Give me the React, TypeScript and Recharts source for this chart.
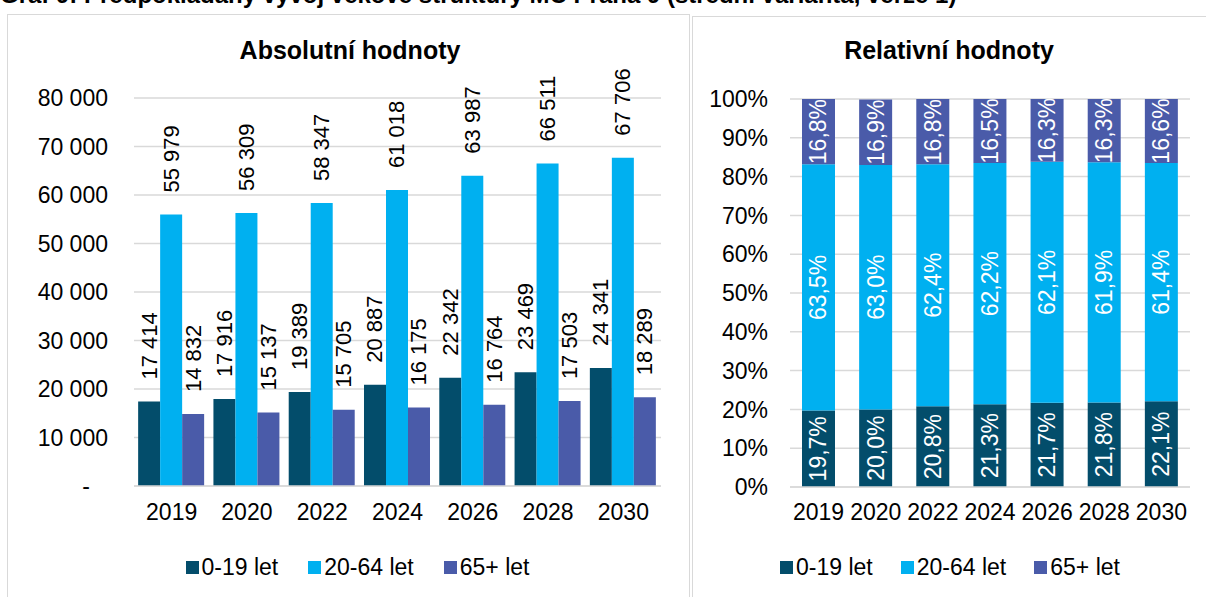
import { BarChart, Bar, XAxis, YAxis, CartesianGrid, Legend, LabelList } from "recharts";

const years = ["2019", "2020", "2022", "2024", "2026", "2028", "2030"];

const youngAbs = [17414, 17916, 19389, 20887, 22342, 23469, 24341];
const workingAbs = [55979, 56309, 58347, 61018, 63987, 66511, 67706];
const seniorAbs = [14832, 15137, 15705, 16175, 16764, 17503, 18289];

const youngPct = [19.7, 20.0, 20.8, 21.3, 21.7, 21.8, 22.1];
const workingPct = [63.5, 63.0, 62.4, 62.2, 62.1, 61.9, 61.4];
const seniorPct = [16.8, 16.9, 16.8, 16.5, 16.3, 16.3, 16.6];

const absTicks = [0, 10000, 20000, 30000, 40000, 50000, 60000, 70000, 80000];
const pctTicks = [0, 10, 20, 30, 40, 50, 60, 70, 80, 90, 100];

const seriesNames = ["0-19 let", "20-64 let", "65+ let"];
const colors = ["#034d6b", "#00b0f0", "#4a5ba9"];

const absData = years.map((year, i) => ({
  year,
  young: youngAbs[i],
  working: workingAbs[i],
  senior: seniorAbs[i],
}));

const pctData = years.map((year, i) => ({
  year,
  young: youngPct[i],
  working: workingPct[i],
  senior: seniorPct[i],
}));

const FONT = "'Liberation Sans', Arial, sans-serif";
const FS = 23;
const LFS = 22;
const GRID = "#d9d9d9";

const fmtNum = (v: number) => String(v).replace(/\B(?=(\d{3})+(?!\d))/g, " ");
const fmtPct = (v: number) => v.toFixed(1).replace(".", ",") + "%";

const AbsTick = (props: any) => {
  const { x, y, payload } = props;
  if (payload.value === 0) {
    return (
      <text x={x - 18} y={y} textAnchor="end" dominantBaseline="central" fontSize={FS} fontFamily={FONT} fill="#000">
        -
      </text>
    );
  }
  return (
    <text x={x} y={y} textAnchor="end" dominantBaseline="central" fontSize={FS} fontFamily={FONT} fill="#000">
      {fmtNum(payload.value)}
    </text>
  );
};

const OutsideLabel = (props: any) => {
  const { x, y, width, value } = props;
  const cx = x + width / 2;
  const cy = y - 22;
  return (
    <text
      x={cx}
      y={cy}
      transform={`rotate(-90 ${cx} ${cy})`}
      textAnchor="start"
      dominantBaseline="central"
      fontSize={LFS}
      fontFamily={FONT}
      fill="#000"
    >
      {fmtNum(value)}
    </text>
  );
};

const InsideLabel = (props: any) => {
  const { x, y, width, height, value } = props;
  const cx = x + width / 2;
  const cy = y + height / 2;
  return (
    <text
      x={cx}
      y={cy}
      transform={`rotate(-90 ${cx} ${cy})`}
      textAnchor="middle"
      dominantBaseline="central"
      fontSize={FS}
      fontFamily={FONT}
      fill="#fff"
    >
      {fmtPct(value)}
    </text>
  );
};

const LegendBox = ({ gap }: { gap: number }) => (
  <div style={{ display: "flex", justifyContent: "center", gap, fontFamily: FONT, fontSize: FS, color: "#000", lineHeight: "24px" }}>
    {seriesNames.map((name, i) => (
      <div key={name} style={{ display: "flex", alignItems: "center" }}>
        <span style={{ display: "inline-block", width: 13, height: 13, background: colors[i], marginRight: 3 }} />
        <span>{name}</span>
      </div>
    ))}
  </div>
);

const titleStyle = (left: number, width: number): React.CSSProperties => ({
  position: "absolute",
  left,
  width,
  top: 35,
  textAlign: "center",
  fontFamily: FONT,
  fontWeight: "bold",
  fontSize: 25,
  lineHeight: "30px",
  color: "#000",
});

export default function App() {
  return (
    <div style={{ position: "absolute", left: 0, top: 0, width: 1206, height: 597, overflow: "hidden", background: "#fff" }}>
      <div
        style={{
          position: "absolute",
          left: 0,
          top: -17,
          whiteSpace: "nowrap",
          fontFamily: FONT,
          fontWeight: "bold",
          fontSize: 24,
          lineHeight: "24px",
        }}
      >
        Graf 9: Předpokládaný vývoj věkové struktury MČ Praha 9 (střední varianta, verze 1)
      </div>
      <div style={{ position: "absolute", left: 7, top: 14, width: 683, height: 620, border: `1px solid ${GRID}`, boxSizing: "border-box" }} />
      <div style={{ position: "absolute", left: 692, top: 16, width: 530, height: 620, border: `1px solid ${GRID}`, boxSizing: "border-box" }} />

      <div style={titleStyle(10, 680)}>Absolutní hodnoty</div>
      <div style={titleStyle(692, 514)}>Relativní hodnoty</div>

      <div style={{ position: "absolute", left: 10, top: 0 }}>
        <BarChart
          width={680}
          height={597}
          data={absData}
          margin={{ top: 98, right: 29, left: 44, bottom: 18 }}
          barCategoryGap="5.5%"
          barGap={0}
        >
          <CartesianGrid vertical={false} stroke={GRID} strokeWidth={1.5} />
          <XAxis
            dataKey="year"
            tickLine={false}
            tickSize={0}
            tickMargin={18}
            height={69}
            axisLine={{ stroke: GRID, strokeWidth: 1.5 }}
            tick={{ fontSize: FS, fontFamily: FONT, fill: "#000" }}
          />
          <YAxis
            width={80}
            domain={[0, 80000]}
            ticks={absTicks}
            axisLine={false}
            tickLine={false}
            tickSize={0}
            tickMargin={26}
            tick={<AbsTick />}
          />
          <Legend verticalAlign="bottom" height={24} content={() => <LegendBox gap={30} />} />
          <Bar dataKey="young" fill={colors[0]} isAnimationActive={false}>
            <LabelList dataKey="young" content={<OutsideLabel />} />
          </Bar>
          <Bar dataKey="working" fill={colors[1]} isAnimationActive={false}>
            <LabelList dataKey="working" content={<OutsideLabel />} />
          </Bar>
          <Bar dataKey="senior" fill={colors[2]} isAnimationActive={false}>
            <LabelList dataKey="senior" content={<OutsideLabel />} />
          </Bar>
        </BarChart>
      </div>

      <div style={{ position: "absolute", left: 692, top: 0 }}>
        <BarChart
          width={514}
          height={597}
          data={pctData}
          margin={{ top: 99, right: 16, left: 18, bottom: 18 }}
          barSize={33}
        >
          <CartesianGrid vertical={false} stroke={GRID} strokeWidth={1.5} />
          <XAxis
            dataKey="year"
            tickLine={false}
            tickSize={0}
            tickMargin={17}
            height={68}
            axisLine={{ stroke: GRID, strokeWidth: 1.5 }}
            tick={{ fontSize: FS, fontFamily: FONT, fill: "#000" }}
          />
          <YAxis
            width={80}
            domain={[0, 100]}
            allowDataOverflow
            ticks={pctTicks}
            axisLine={false}
            tickLine={false}
            tickSize={0}
            tickMargin={22}
            tickFormatter={(v: number) => `${v}%`}
            tick={{ fontSize: FS, fontFamily: FONT, fill: "#000" }}
          />
          <Legend verticalAlign="bottom" height={24} content={() => <LegendBox gap={28} />} />
          <Bar dataKey="young" stackId="a" fill={colors[0]} isAnimationActive={false}>
            <LabelList dataKey="young" content={<InsideLabel />} />
          </Bar>
          <Bar dataKey="working" stackId="a" fill={colors[1]} isAnimationActive={false}>
            <LabelList dataKey="working" content={<InsideLabel />} />
          </Bar>
          <Bar dataKey="senior" stackId="a" fill={colors[2]} isAnimationActive={false}>
            <LabelList dataKey="senior" content={<InsideLabel />} />
          </Bar>
        </BarChart>
      </div>
    </div>
  );
}
